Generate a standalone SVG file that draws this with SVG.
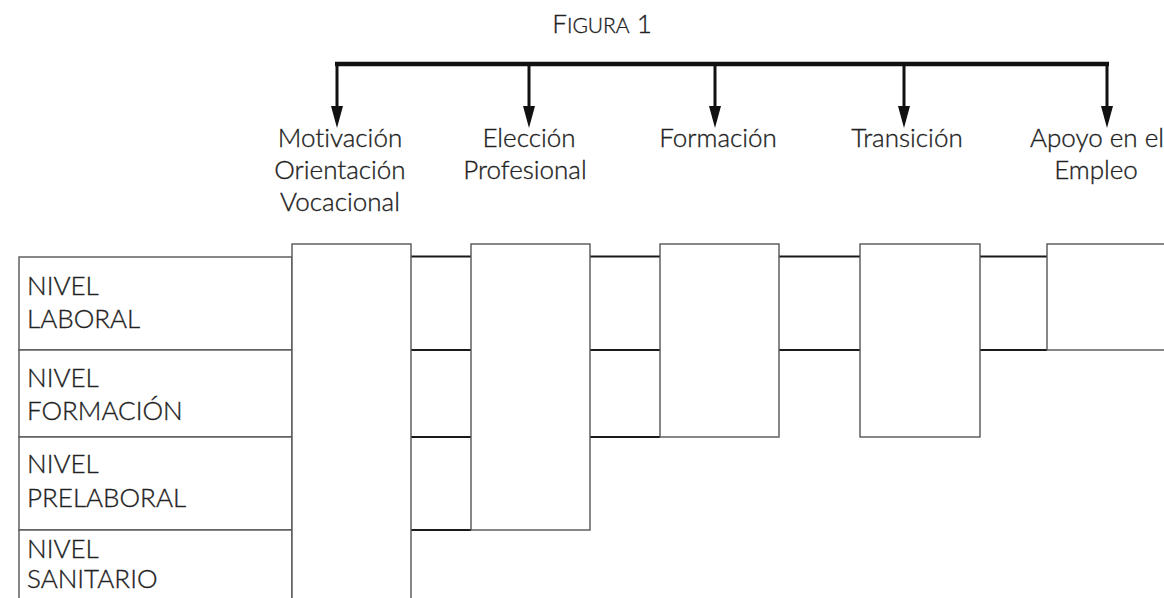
<svg xmlns="http://www.w3.org/2000/svg" width="1164" height="598" viewBox="0 0 1164 598">
  <defs>
    <style>
      .lbl { font-family: Lato, "Open Sans", "Liberation Sans", sans-serif; font-weight: 300; font-size: 26px; fill: #222; stroke: #222; stroke-width: 0.35; font-variant-ligatures: none; }
      .mid { text-anchor: middle; }
      .box { fill: #fff; stroke: #555; stroke-width: 1.4; }
      .row { fill: #fff; stroke: #555; stroke-width: 1.4; }
      .link { stroke: #1a1a1a; stroke-width: 2.2; fill: none; }
      .bar { stroke: #111; stroke-width: 4.5; fill: none; }
      .stem { stroke: #111; stroke-width: 3; fill: none; marker-end: url(#arrow); }
    </style>
    <marker id="arrow" markerUnits="userSpaceOnUse" markerWidth="22" markerHeight="12" viewBox="0 0 22 12" refX="6" refY="6" orient="auto">
      <path d="M0,0 L22,6 L0,12 Z" fill="#111"/>
    </marker>
  </defs>

  <rect width="1164" height="598" fill="#fff"/>

  <!-- title -->
  <text id="title" class="lbl mid" x="602" y="33" font-size="27">F<tspan font-size="21">IGURA</tspan> 1</text>

  <!-- distribution bar with arrows down to each stage -->
  <g id="connectors">
    <line class="bar" x1="335" y1="64" x2="1109" y2="64"/>
    <line class="stem" x1="337" y1="64" x2="337" y2="112"/>
    <line class="stem" x1="529" y1="64" x2="529" y2="112"/>
    <line class="stem" x1="715" y1="64" x2="715" y2="112"/>
    <line class="stem" x1="904" y1="64" x2="904" y2="112"/>
    <line class="stem" x1="1107" y1="64" x2="1107" y2="112"/>

    <!-- links between stage columns -->
    <line class="link" x1="411" y1="256.5" x2="471" y2="256.5"/>
    <line class="link" x1="411" y1="350" x2="471" y2="350"/>
    <line class="link" x1="411" y1="437" x2="471" y2="437"/>
    <line class="link" x1="411" y1="530" x2="471" y2="530"/>

    <line class="link" x1="590" y1="256.5" x2="660" y2="256.5"/>
    <line class="link" x1="590" y1="350" x2="660" y2="350"/>
    <line class="link" x1="590" y1="437" x2="660" y2="437"/>

    <line class="link" x1="779" y1="256.5" x2="860" y2="256.5"/>
    <line class="link" x1="779" y1="350" x2="860" y2="350"/>

    <line class="link" x1="980" y1="256.5" x2="1047" y2="256.5"/>
    <line class="link" x1="980" y1="350" x2="1047" y2="350"/>
  </g>

  <!-- stage headings -->
  <g id="stage-motivacion-label">
    <text class="lbl mid" x="340" y="147">Motivación</text>
    <text class="lbl mid" x="340" y="179">Orientación</text>
    <text class="lbl mid" x="340" y="211">Vocacional</text>
  </g>
  <g id="stage-eleccion-label">
    <text class="lbl mid" x="529" y="147">Elección</text>
    <text class="lbl mid" x="525" y="179">Profesional</text>
  </g>
  <g id="stage-formacion-label">
    <text class="lbl mid" x="718" y="147">Formación</text>
  </g>
  <g id="stage-transicion-label">
    <text class="lbl mid" x="907" y="147">Transición</text>
  </g>
  <g id="stage-apoyo-label">
    <text class="lbl mid" x="1097" y="147">Apoyo en el</text>
    <text class="lbl mid" x="1096" y="179">Empleo</text>
  </g>

  <!-- levels table -->
  <g id="nivel-laboral">
    <rect class="row" x="19" y="257" width="273" height="93"/>
    <text class="lbl" x="27" y="295">NIVEL</text>
    <text class="lbl" x="27" y="328">LABORAL</text>
  </g>
  <g id="nivel-formacion">
    <rect class="row" x="19" y="350" width="273" height="87"/>
    <text class="lbl" x="27" y="387">NIVEL</text>
    <text class="lbl" x="27" y="420">FORMACIÓN</text>
  </g>
  <g id="nivel-prelaboral">
    <rect class="row" x="19" y="437" width="273" height="93"/>
    <text class="lbl" x="27" y="473">NIVEL</text>
    <text class="lbl" x="27" y="507">PRELABORAL</text>
  </g>
  <g id="nivel-sanitario">
    <rect class="row" x="19" y="530" width="273" height="90"/>
    <text class="lbl" x="27" y="558">NIVEL</text>
    <text class="lbl" x="27" y="588">SANITARIO</text>
  </g>

  <!-- stage columns -->
  <g id="col-motivacion"><rect class="box" x="292" y="244" width="119" height="380"/></g>
  <g id="col-eleccion"><rect class="box" x="471" y="244" width="119" height="286"/></g>
  <g id="col-formacion"><rect class="box" x="660" y="244" width="119" height="193"/></g>
  <g id="col-transicion"><rect class="box" x="860" y="244" width="120" height="193"/></g>
  <g id="col-apoyo"><rect class="box" x="1047" y="244" width="140" height="106"/></g>
</svg>
